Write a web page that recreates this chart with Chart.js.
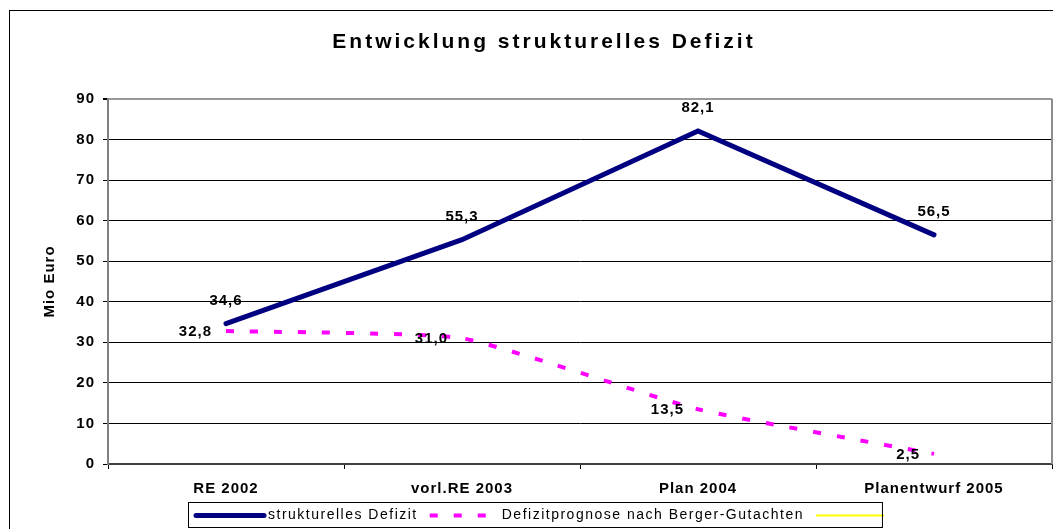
<!DOCTYPE html>
<html>
<head>
<meta charset="utf-8">
<script src="https://cdn.jsdelivr.net/npm/chart.js@4"></script>
<style>
  html, body { margin: 0; padding: 0; background: #fff; }
  #wrap { width: 1053px; height: 529px; }
</style>
</head>
<body>
<div id="wrap"><canvas id="chart" width="1053" height="529"></canvas></div>
<script>
// data
const categories = ['RE 2002', 'vorl.RE 2003', 'Plan 2004', 'Planentwurf 2005'];
const strukturellesDefizit = [34.6, 55.3, 82.1, 56.5];
const bergerPrognose = [32.8, 31.0, 13.5, 2.5];
const leereReihe = [null, null, null, null];
const yMin = 0, yMax = 90, yStep = 10;

const FONT = "'Liberation Sans', Arial, sans-serif";

function fmt(v) {
    return v.toFixed(1).replace('.', ',');
}

// frame, title, data labels and legend box drawn by hand
const decor = {
    id: 'decor',
    beforeUpdate(chart) { chart.ctx.letterSpacing = '1px'; },
    beforeDraw(chart) {
        const ctx = chart.ctx;
        ctx.letterSpacing = '1px';
        ctx.save();
        ctx.strokeStyle = '#000';
        ctx.lineWidth = 1;
        ctx.strokeRect(9.5, 10.5, 1200, 700);
        ctx.fillStyle = '#000';
        ctx.font = 'bold 21px ' + FONT;
        ctx.letterSpacing = '3px';
        ctx.textAlign = 'center';
        ctx.textBaseline = 'alphabetic';
        ctx.fillText('Entwicklung strukturelles Defizit', 544, 48);
        ctx.restore();
    },
    afterDraw(chart) {
        const ctx = chart.ctx;
        const a = chart.chartArea;
        ctx.save();
        // right border of plot area
        ctx.strokeStyle = '#8c8c8c';
        ctx.lineWidth = 2;
        ctx.beginPath();
        ctx.moveTo(a.right, a.top);
        ctx.lineTo(a.right, a.bottom);
        ctx.stroke();

        // data labels
        ctx.letterSpacing = '1px';
        ctx.font = 'bold 15px ' + FONT;
        ctx.fillStyle = '#000';
        chart.data.datasets.forEach((ds, i) => {
            const meta = chart.getDatasetMeta(i);
            meta.data.forEach((pt, j) => {
                const v = ds.data[j];
                if (v == null) return;
                if (i === 0) {
                    ctx.textAlign = 'center';
                    ctx.textBaseline = 'middle';
                    ctx.fillText(fmt(v), pt.x, pt.y - 23);
                } else {
                    ctx.textAlign = 'right';
                    ctx.textBaseline = 'middle';
                    ctx.fillText(fmt(v), pt.x - 14, pt.y + 1);
                }
            });
        });

        // legend
        const lx = 188, ly = 502, lh = 25, cy = ly + lh / 2 + 1;
        ctx.letterSpacing = '1.5px';
        ctx.font = '14px ' + FONT;
        ctx.textAlign = 'left';
        ctx.textBaseline = 'middle';
        let x = lx + 8;
        chart.data.datasets.forEach((ds) => {
            ctx.save();
            ctx.strokeStyle = ds.borderColor;
            ctx.lineWidth = ds.borderWidth;
            ctx.lineCap = ds.borderDash ? 'butt' : (ds.borderCapStyle || 'butt');
            ctx.setLineDash(ds.borderDash || []);
            ctx.beginPath();
            ctx.moveTo(x, cy);
            ctx.lineTo(x + 68, cy);
            ctx.stroke();
            ctx.restore();
            x += 72;
            if (ds.label) {
                ctx.fillStyle = '#000';
                ctx.fillText(ds.label, x, cy);
                x += ctx.measureText(ds.label).width + 12;
            }
        });
        ctx.strokeStyle = '#000';
        ctx.lineWidth = 1;
        ctx.strokeRect(lx + 0.5, ly + 0.5, x - lx - 6, lh);
        ctx.restore();
    }
};

new Chart(document.getElementById('chart').getContext('2d'), {
    type: 'line',
    data: {
        labels: categories,
        datasets: [{
            label: 'strukturelles Defizit',
            data: strukturellesDefizit,
            borderColor: '#000080',
            backgroundColor: '#000080',
            borderWidth: 5,
            borderCapStyle: 'round',
            borderJoinStyle: 'miter',
            pointRadius: 0,
            tension: 0
        }, {
            label: 'Defizitprognose nach Berger-Gutachten',
            data: bergerPrognose,
            borderColor: '#ff00ff',
            backgroundColor: '#ff00ff',
            borderWidth: 4,
            borderDash: [8, 16],
            pointRadius: 0,
            tension: 0.15
        }, {
            label: '',
            data: leereReihe,
            borderColor: '#ffff00',
            backgroundColor: '#ffff00',
            borderWidth: 2,
            pointRadius: 0
        }]
    },
    options: {
        responsive: false,
        animation: false,
        layout: { padding: { top: 99, right: 1, left: 0, bottom: 0 } },
        plugins: {
            legend: { display: false },
            title: { display: false },
            tooltip: { enabled: false }
        },
        scales: {
            x: {
                offset: true,
                grid: {
                    offset: true,
                    drawOnChartArea: false,
                    drawTicks: true,
                    tickLength: 5,
                    color: '#000'
                },
                border: { color: '#404040', width: 2 },
                ticks: {
                    color: '#000',
                    padding: 11,
                    maxRotation: 0,
                    font: { family: FONT, size: 15, weight: 'bold' }
                },
                afterFit(scale) { scale.height = 65; }
            },
            y: {
                min: yMin,
                max: yMax,
                grid: {
                    color: (c) => (c.tick && c.tick.value === yMax) ? '#999' : '#000',
                    lineWidth: (c) => (c.tick && c.tick.value === yMax) ? 2 : 1,
                    tickLength: 5,
                    tickColor: '#000'
                },
                border: { color: '#808080', width: 2 },
                ticks: {
                    stepSize: yStep,
                    color: '#000',
                    padding: 8,
                    font: { family: FONT, size: 15, weight: 'bold' }
                },
                title: {
                    display: true,
                    text: 'Mio Euro',
                    color: '#000',
                    padding: { top: 41, bottom: 0 },
                    font: { family: FONT, size: 15, weight: 'bold' }
                },
                afterFit(scale) { scale.width = 108; }
            }
        }
    },
    plugins: [decor]
});
</script>
</body>
</html>
